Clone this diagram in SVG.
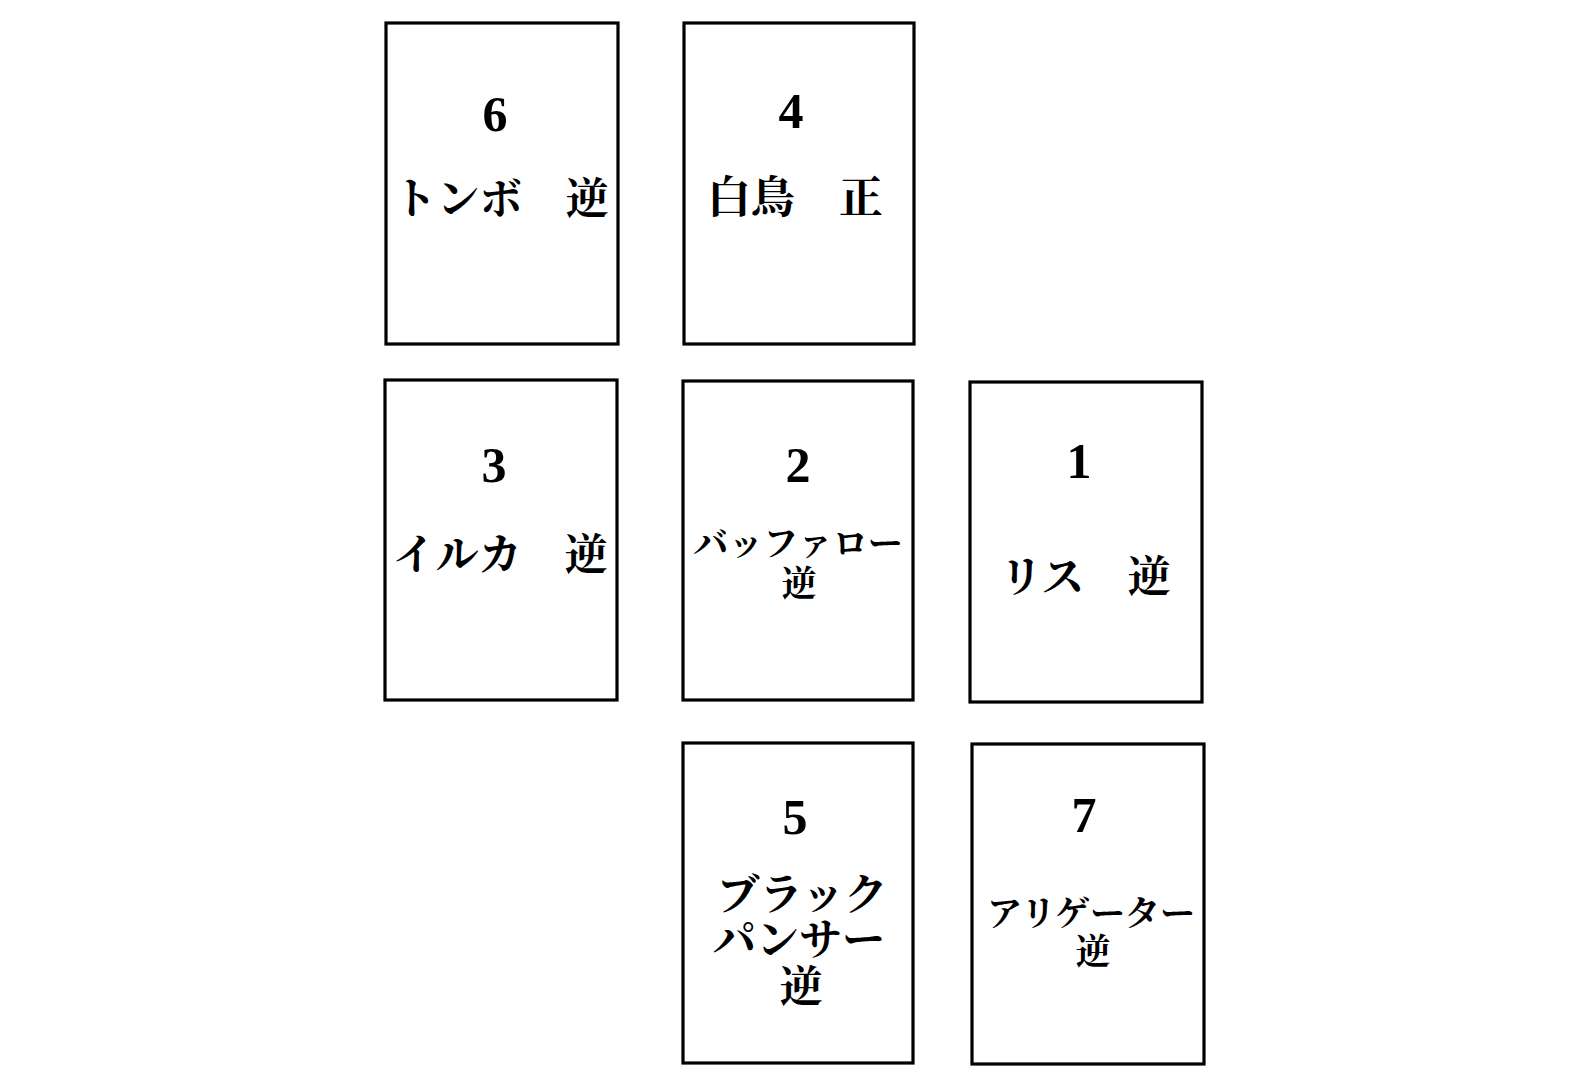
<svg xmlns="http://www.w3.org/2000/svg" width="1586" height="1089" viewBox="0 0 1586 1089">
<style>
.card{fill:#fff;stroke:#000;stroke-width:3.2}
.num{font-family:"Liberation Serif","Times New Roman",serif;font-weight:bold;font-size:50px;text-anchor:middle;fill:#000}
.jp{font-family:"Noto Serif CJK JP","Noto Sans CJK JP",serif;font-weight:bold;text-anchor:middle;fill:#000}
.l{font-size:43px}
.s{font-size:35px}
</style>
<rect width="1586" height="1089" fill="#fff"/>
<g id="connectors"></g>
<g id="card6">
<rect class="card" x="386" y="23" width="232" height="321"/>
<text class="num" x="495" y="131">6</text>
<text class="jp l" x="501" y="214">トンボ　逆</text>
</g>
<g id="card4">
<rect class="card" x="684" y="23" width="230" height="321"/>
<text class="num" x="791" y="128">4</text>
<text class="jp l" x="795" y="213" style="font-size:44px">白鳥　正</text>
</g>
<g id="card3">
<rect class="card" x="385" y="380" width="232" height="320"/>
<text class="num" x="494" y="482">3</text>
<text class="jp l" x="500" y="570">イルカ　逆</text>
</g>
<g id="card2">
<rect class="card" x="683" y="381" width="230" height="319"/>
<text class="num" x="798" y="482">2</text>
<text class="jp s"><tspan x="798" y="556">バッファロー</tspan><tspan x="799" y="596">逆</tspan></text>
</g>
<g id="card1">
<rect class="card" x="970" y="382" width="232" height="320"/>
<text class="num" x="1079" y="478">1</text>
<text class="jp l" x="1085" y="592">リス　逆</text>
</g>
<g id="card5">
<rect class="card" x="683" y="743" width="230" height="320"/>
<text class="num" x="795" y="834">5</text>
<text class="jp l"><tspan x="802" y="910">ブラック</tspan><tspan x="799" y="955">パンサー</tspan><tspan x="801" y="1002">逆</tspan></text>
</g>
<g id="card7">
<rect class="card" x="972" y="744" width="232" height="320"/>
<text class="num" x="1084" y="832">7</text>
<text class="jp s"><tspan x="1091" y="926">アリゲーター</tspan><tspan x="1093" y="964">逆</tspan></text>
</g>
</svg>
